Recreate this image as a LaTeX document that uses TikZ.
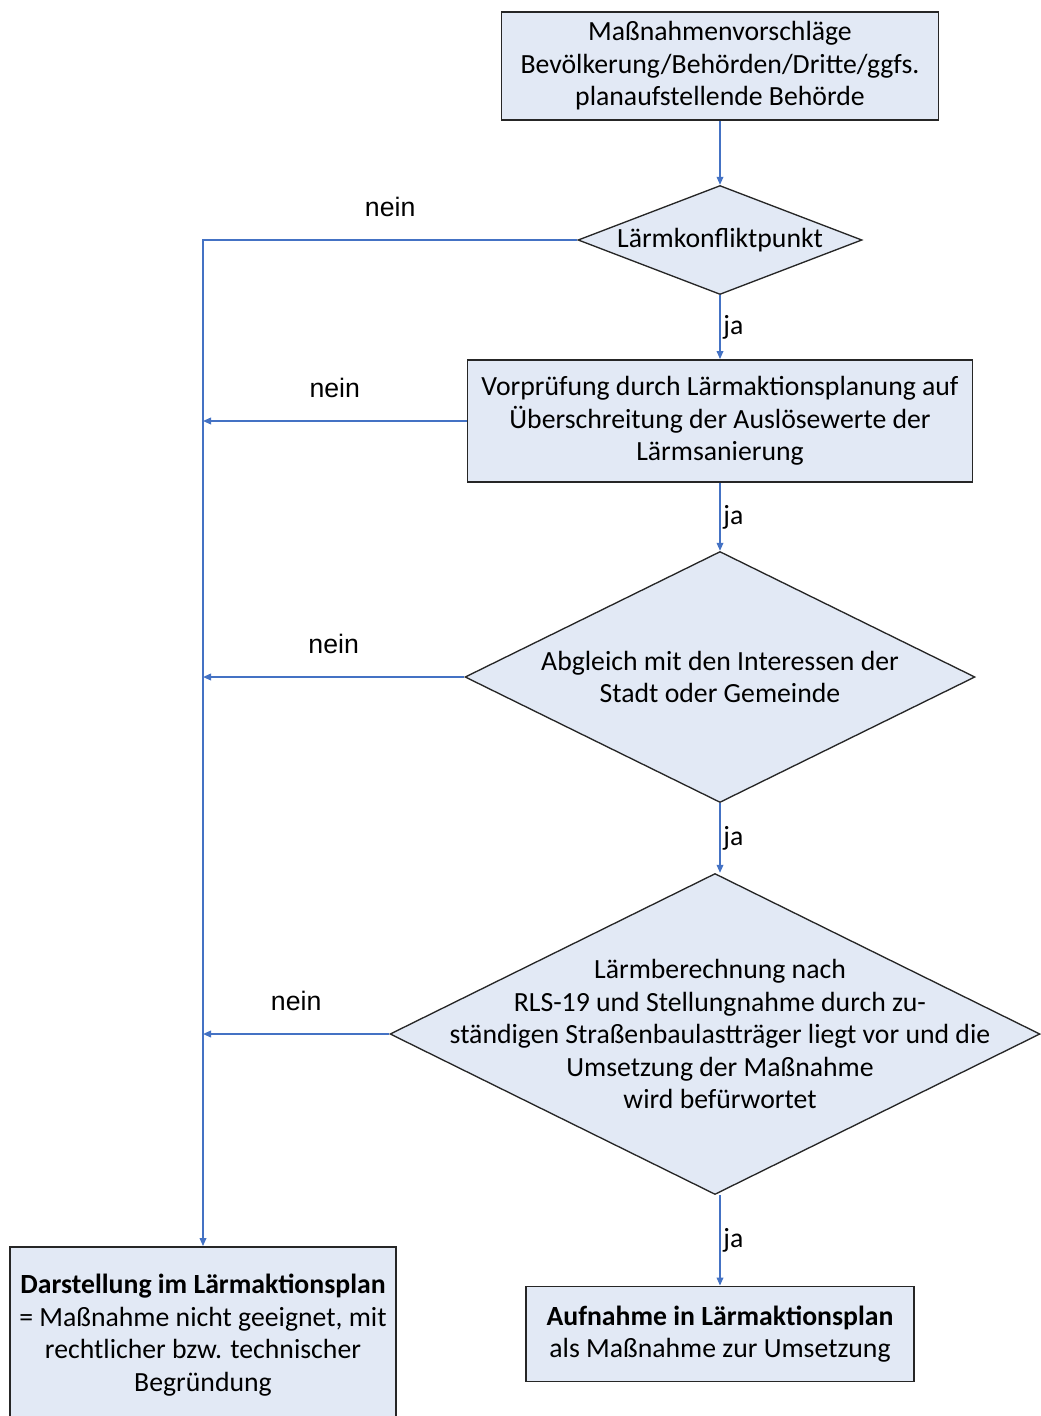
\documentclass[tikz,border=0pt]{standalone}
\usepackage{fontspec}
\setmainfont{Carlito}
\newfontfamily\neinfont{Liberation Sans}
\usetikzlibrary{shapes.geometric,arrows.meta}
\definecolor{boxfill}{HTML}{E2E9F5}
\definecolor{flowblue}{HTML}{4472C4}
\definecolor{boxline}{HTML}{262626}

\begin{document}
\begin{tikzpicture}[x=0.75pt,y=-0.75pt,
  every node/.style={font=\fontsize{20.8}{24.4}\selectfont},
  stepbox/.style={draw=boxline,line width=1.4pt,fill=boxfill,inner sep=0pt,align=center},
  decision/.style={diamond,draw=boxline,line width=1pt,fill=boxfill,inner sep=0pt},
  txt/.style={align=center,inner sep=0pt},
  flow/.style={draw=flowblue,line width=1.1pt,-{Triangle[length=6pt,width=5pt]}},
  ja/.style={midway,right,inner sep=2pt},
  nein/.style={midway,above=17pt,inner sep=0pt,font=\neinfont\fontsize{20}{24}\selectfont}]
\useasboundingbox (0,0) rectangle (1041,1416);

\node[stepbox,minimum width=437*0.75pt,minimum height=108*0.75pt] (vorschlag) at (720,66)
  {Maßnahmenvorschläge\\Bevölkerung/Behörden/Dritte/ggfs.\\planaufstellende Behörde};
\node[decision,minimum width=284*0.75pt,minimum height=109*0.75pt] (konflikt) at (720,240) {};
\node[txt] (konfliktT) at (konflikt) {Lärmkonfliktpunkt};
\node[stepbox,minimum width=505*0.75pt,minimum height=122*0.75pt] (vorpruef) at (720,421)
  {Vorprüfung durch Lärmaktionsplanung auf\\Überschreitung der Auslösewerte der\\Lärmsanierung};
\node[decision,minimum width=510*0.75pt,minimum height=251*0.75pt] (abgleich) at (720,677) {};
\node[txt] (abgleichT) at (abgleich) {Abgleich mit den Interessen der\\Stadt oder Gemeinde};
\node[decision,minimum width=650*0.75pt,minimum height=321*0.75pt] (berechnung) at (715,1034) {};
\node[txt] (berechnungT) at (720,1034) {Lärmberechnung nach\\RLS-19 und Stellungnahme durch zu-\\ständigen Straßenbaulastträger liegt vor und die\\Umsetzung der Maßnahme\\wird befürwortet};
\node[stepbox,minimum width=388*0.75pt,minimum height=95*0.75pt] (aufnahme) at (720,1334)
  {\textbf{Aufnahme in Lärmaktionsplan}\\als Maßnahme zur Umsetzung};
\node[stepbox,minimum width=386*0.75pt,minimum height=176*0.75pt] (darstellung) at (203,1335)
  {\textbf{Darstellung im Lärmaktionsplan}\\= Maßnahme nicht geeignet, mit\\rechtlicher bzw. technischer\\Begründung};

\draw[flow] (vorschlag) -- (konflikt);
\draw[flow] (konflikt) -- node[ja] {ja} (vorpruef);
\draw[flow] (vorpruef) -- node[ja] {ja} (abgleich);
\draw[flow] (abgleich) -- node[ja] {ja} (berechnung.north -| abgleich.south);
\draw[flow] (berechnung.south -| aufnahme.north) -- node[ja] {ja} (aufnahme);

\draw[flow] (konflikt.west) -- node[nein] {nein} (konflikt.west -| darstellung.north) -- (darstellung.north);
\draw[flow] (vorpruef.west) -- node[nein] {nein} (vorpruef.west -| darstellung.north);
\draw[flow] (abgleich.west) -- node[nein] {nein} (abgleich.west -| darstellung.north);
\draw[flow] (berechnung.west) -- node[nein] {nein} (berechnung.west -| darstellung.north);
\end{tikzpicture}
\end{document}
